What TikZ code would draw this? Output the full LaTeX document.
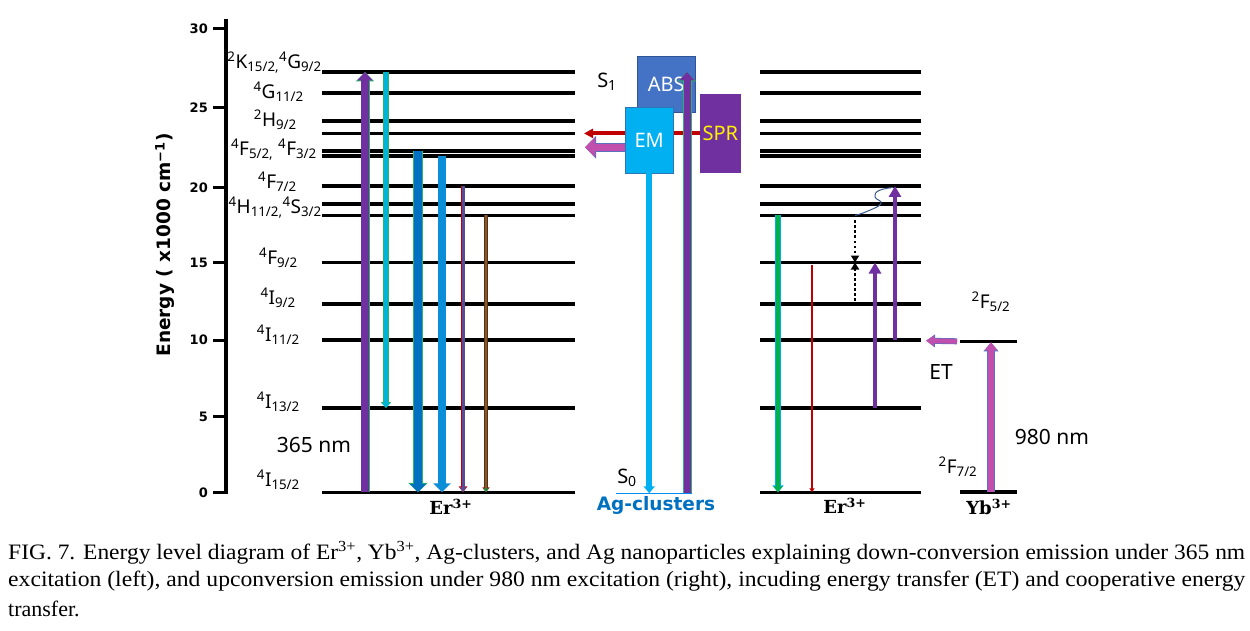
\documentclass[tikz,border=0pt]{standalone}
\usepackage{fontspec}
\setmainfont{Noto Sans}
\newfontfamily\capfont{Liberation Serif}
\newfontfamily\axisfont{DejaVu Sans}
\newfontfamily\ionfont{DejaVu Serif}
\usetikzlibrary{arrows.meta, backgrounds}
\definecolor{uvpurple}{HTML}{7030A0}
\definecolor{rimgreen}{HTML}{2DB36B}
\definecolor{emcyan}{HTML}{00B0F0}
\definecolor{tealcyan}{HTML}{00B4D8}
\definecolor{deepblue}{HTML}{0070C0}
\definecolor{midblue}{HTML}{0B8ED8}
\definecolor{darkred}{HTML}{C00000}
\definecolor{gemgreen}{HTML}{00B050}
\definecolor{forestgreen}{HTML}{1F8A3F}
\definecolor{thinpurple}{HTML}{5A4A9A}
\definecolor{absblue}{HTML}{4472C4}
\definecolor{absedge}{HTML}{2F5597}
\definecolor{emedge}{HTML}{2E75B6}
\definecolor{pinkarrow}{HTML}{C04FAE}
\definecolor{rimblue}{HTML}{5B6FC0}
\definecolor{squigblue}{HTML}{3A5A8C}

\newcommand{\term}[3]{\textsuperscript{#1}#2\textsubscript{#3}}

\tikzset{
  level/.style={line width=3.2pt},
  axtick/.style={line width=3pt},
  ticklbl/.style={anchor=east, inner sep=0pt, font=\axisfont\bfseries\fontsize{13}{15}\selectfont},
  termlbl/.style={anchor=east, inner sep=0pt, font=\fontsize{19}{22}\selectfont},
  bigtxt/.style={inner sep=0pt, font=\fontsize{21}{24}\selectfont},
  ionlbl/.style={inner sep=0pt, font=\ionfont\bfseries\fontsize{18}{20}\selectfont},
  capline/.style={anchor=west, inner sep=0pt, font=\capfont\fontsize{22}{26}\selectfont},
  box/.style={rectangle, inner sep=0pt, font=\fontsize{20}{22}\selectfont},
  % arrows
  pump/.style={draw=uvpurple, line width=7.5pt, -{Triangle[width=15pt,length=8.5pt]},
    preaction={draw=rimgreen, line width=9pt, -{Triangle[width=18pt,length=9.5pt]}}},
  fallcyan/.style={draw=tealcyan, line width=4.5pt, -{Triangle[width=8pt,length=5pt]},
    preaction={draw=rimgreen, line width=5.8pt, -{Triangle[width=10pt,length=5.8pt]}}},
  falldeep/.style={draw=deepblue, line width=8.5pt, -{Triangle[width=16pt,length=8.5pt]},
    preaction={draw=rimgreen, line width=9.3pt, -{Triangle[width=19pt,length=9.5pt]}}},
  fallmid/.style={draw=midblue, line width=8.5pt, -{Triangle[width=17pt,length=9pt]}},
  fallthin/.style={draw=thinpurple, line width=3pt, -{Triangle[width=6pt,length=5pt]},
    preaction={draw=darkred, line width=4.4pt, -{Triangle[width=8.5pt,length=6pt]}}},
  fallgreen/.style={draw=forestgreen, line width=2.4pt, -{Triangle[width=5pt,length=4pt]},
    preaction={draw=darkred, line width=3.4pt, -{Triangle[width=7pt,length=5pt]}}},
  rgreen/.style={draw=gemgreen, line width=4.2pt, -{Triangle[width=9pt,length=6pt]},
    preaction={draw=emcyan, line width=5.4pt, -{Triangle[width=11pt,length=7pt]}}},
  rred/.style={draw=darkred, line width=2pt, -{Triangle[width=5pt,length=4pt]}},
  dotarrow/.style={draw=black, line width=2.6pt, dash pattern=on 2.6pt off 2.4pt,
    -{Triangle[width=8pt,length=7pt]}},
  uppur/.style={draw=uvpurple, line width=4.2pt, -{Triangle[width=12pt,length=11pt]}},
  emfall/.style={draw=emcyan, line width=5.5pt, -{Triangle[width=11pt,length=7pt]}},
  sprline/.style={draw=darkred, line width=4pt, -{Triangle[width=9pt,length=9pt]}},
  blockpink/.style={draw=pinkarrow, line width=7.5pt, -{Triangle[width=19pt,length=10pt]},
    preaction={draw=rimblue, line width=9pt, -{Triangle[width=22pt,length=11pt]}}},
  etarrow/.style={draw=pinkarrow, line width=4.8pt, -{Triangle[width=10pt,length=8pt]},
    preaction={draw=rimblue, line width=6pt, -{Triangle[width=12.5pt,length=9pt]}}},
  ybpump/.style={draw=pinkarrow, line width=6pt, -{Triangle[width=12pt,length=8pt]},
    preaction={draw=rimblue, line width=7.2pt, -{Triangle[width=14.5pt,length=9pt]}}},
  squig/.style={draw=squigblue, line width=1pt},
}

\begin{document}
\begin{tikzpicture}[x=1pt, y=-1pt]
  \useasboundingbox (0,0) rectangle (1250,631);

  % energy axis
  \draw[line width=3.5pt] (226,19) -- (226,493.5);
  \foreach \v/\y in {0/492.3, 5/416.7, 10/340, 15/262.7, 20/187.3, 25/107.7, 30/28.3} {
    \draw[axtick] (213,\y) -- (226,\y);
    \node[ticklbl] at (208,\y) {\v};
  }
  \node[rotate=90, font=\axisfont\bfseries\fontsize{18.5}{21}\selectfont] (ylab) at (165,245)
    {Energy ( x1000 cm\textsuperscript{\char"2212 1})};

  % Er levels, left and right
  \foreach \n/\y in {1/72, 2/93, 3/121, 4/133.5, 5/151, 6/156, 7/186, 8/204,
                     9/215.5, 10/262.5, 11/304, 12/340, 13/408, 14/492.3} {
    \coordinate (el\n) at (322,\y);
    \coordinate (er\n) at (760,\y);
    \draw[level] (el\n) -- ++(253,0);
    \draw[level] (er\n) -- ++(161,0);
  }

  \node[termlbl] (l-k) at (322,63) {\term{2}{K}{15/2,}\term{4}{G}{9/2}};
  \node[termlbl] (l-g) at (304,92) {\term{4}{G}{11/2}};
  \node[termlbl] (l-h) at (297,120) {\term{2}{H}{9/2}};
  \node[termlbl] (l-f5) at (317,150) {\term{4}{F}{5/2,}\ \term{4}{F}{3/2}};
  \node[termlbl] (l-f7) at (297,182) {\term{4}{F}{7/2}};
  \node[termlbl] (l-hs) at (322,208) {\term{4}{H}{11/2,}\term{4}{S}{3/2}};
  \node[termlbl] (l-f9) at (298,258) {\term{4}{F}{9/2}};
  \node[termlbl] (l-i9) at (296,298) {\term{4}{I}{9/2}};
  \node[termlbl] (l-i11) at (300,335) {\term{4}{I}{11/2}};
  \node[termlbl] (l-i13) at (300,402) {\term{4}{I}{13/2}};
  \node[termlbl] (l-i15) at (300,480) {\term{4}{I}{15/2}};
  \node[bigtxt] (uvnm) at (314,445) {365 nm};

  % down-conversion (left)
  \coordinate (x-uv) at (365,0);
  \coordinate (x-cy) at (386,0);
  \coordinate (x-dp) at (418,0);
  \coordinate (x-md) at (442,0);
  \coordinate (x-th) at (463,0);
  \coordinate (x-gr) at (486,0);
  \draw[pump] (x-uv |- el14) -- (x-uv |- el1);
  \draw[fallcyan] (x-cy |- el1) -- (x-cy |- el13);
  \draw[falldeep] (x-dp |- el5) -- (x-dp |- el14);
  \draw[fallmid] (x-md |- el6) -- (x-md |- el14);
  \draw[fallthin] (x-th |- el7) -- (x-th |- el14);
  \draw[fallgreen] (x-gr |- el9) -- (x-gr |- el14);
  \node[ionlbl] (er-left) at (451,507) {Er\textsuperscript{3+}};

  % Ag clusters and nanoparticles
  \node[box, fill=absblue, draw=absedge, text=white, minimum width=57.7pt, minimum height=55.7pt]
    (abs) at (666.2,83.9) {ABS};
  \node[box, fill=emcyan, draw=emedge, text=white, minimum width=48.3pt, minimum height=66pt]
    (em) at (649.2,140.3) {EM};
  \node[box, fill=uvpurple, text=yellow, minimum width=40.7pt, minimum height=78.7pt]
    (spr) at (720.4,133.4) {SPR};
  \coordinate (spr-tip) at (584,133.4);
  \coordinate (pink-tip) at (585,147.3);
  \coordinate (s0-a) at (616,493.3);
  \coordinate (s0-b) at (692,493.3);
  \coordinate (x-ag) at (687,0);
  \begin{scope}[on background layer]
    \draw[sprline] (spr.west) -- (spr-tip);
  \end{scope}
  \draw[blockpink] ([yshift=-7pt]em.west) -- (pink-tip);
  \draw[emcyan!80!blue, line width=1.2pt] (s0-a) -- (s0-b);
  \draw[emfall] (em.south) -- (em.south |- s0-a);
  \draw[pump, line width=7pt] (x-ag |- s0-a) -- (x-ag |- el1);
  \node[font=\fontsize{20}{22}\selectfont, inner sep=0pt] (s1) at (607,82) {S\textsubscript{1}};
  \node[font=\fontsize{20}{22}\selectfont, inner sep=0pt] (s0) at (627,478) {S\textsubscript{0}};
  \node[font=\axisfont\bfseries\fontsize{18.5}{21}\selectfont, text=deepblue, inner sep=0pt] (ag) at (656,505) {Ag-clusters};

  % upconversion (right)
  \coordinate (x-rg) at (778,0);
  \coordinate (x-rr) at (812,0);
  \coordinate (x-dot) at (855,0);
  \coordinate (x-up1) at (875,0);
  \coordinate (x-up2) at (895,0);
  \draw[rgreen] (x-rg |- er9) -- (x-rg |- er14);
  \draw[rred] ([yshift=-2pt]x-rr |- er10) -- (x-rr |- er14);
  \draw[dotarrow] ([yshift=-5pt]x-dot |- er9) -- (x-dot |- er10);
  \draw[dotarrow] ([yshift=-2pt]x-dot |- er11) -- (x-dot |- er10);
  \draw[uppur] (x-up1 |- er13) -- (x-up1 |- er10);
  \draw[uppur] (x-up2 |- er12) -- (x-up2 |- er7);
  \draw[squig] plot[smooth, tension=0.8] coordinates
    {(x-dot |- er9) (868,211) (881,203.5) (875,197) (879,190.5) (893,187.5)};
  \node[ionlbl] (er-right) at (845,506) {Er\textsuperscript{3+}};

  % Yb
  \coordinate (yb-lo) at (960,492);
  \coordinate (yb-up) at (960,341.3);
  \coordinate (et-tip) at (926,340.7);
  \coordinate (x-yb) at (991,0);
  \draw[line width=3.4pt] (yb-lo) -- ++(57,0);
  \draw[line width=3.4pt] (yb-up) -- ++(57,0);
  \draw[etarrow] ([xshift=-3pt]yb-up) -- (et-tip);
  \draw[ybpump] (x-yb |- yb-lo) -- ([yshift=-1pt]x-yb |- yb-up);
  \node[termlbl, anchor=center] (yb-f5) at (991,302) {\term{2}{F}{5/2}};
  \node[termlbl, anchor=center] (yb-f7) at (958,467) {\term{2}{F}{7/2}};
  \node[bigtxt] (et) at (941,372) {ET};
  \node[bigtxt] (irnm) at (1052,437) {980 nm};
  \node[ionlbl] (yb) at (989,507) {Yb\textsuperscript{3+}};

  % caption
  \node[capline] (cap1) at (8,553) {\resizebox{1237pt}{\height}{FIG. 7. Energy level diagram of Er\textsuperscript{3+}, Yb\textsuperscript{3+}, Ag-clusters, and Ag nanoparticles explaining down-conversion emission under 365 nm}};
  \node[capline] (cap2) at (8,581) {\resizebox{1237pt}{\height}{excitation (left), and upconversion emission under 980 nm excitation (right), incuding energy transfer (ET) and cooperative energy}};
  \node[capline] (cap3) at (8,609) {transfer.};
\end{tikzpicture}
\end{document}
